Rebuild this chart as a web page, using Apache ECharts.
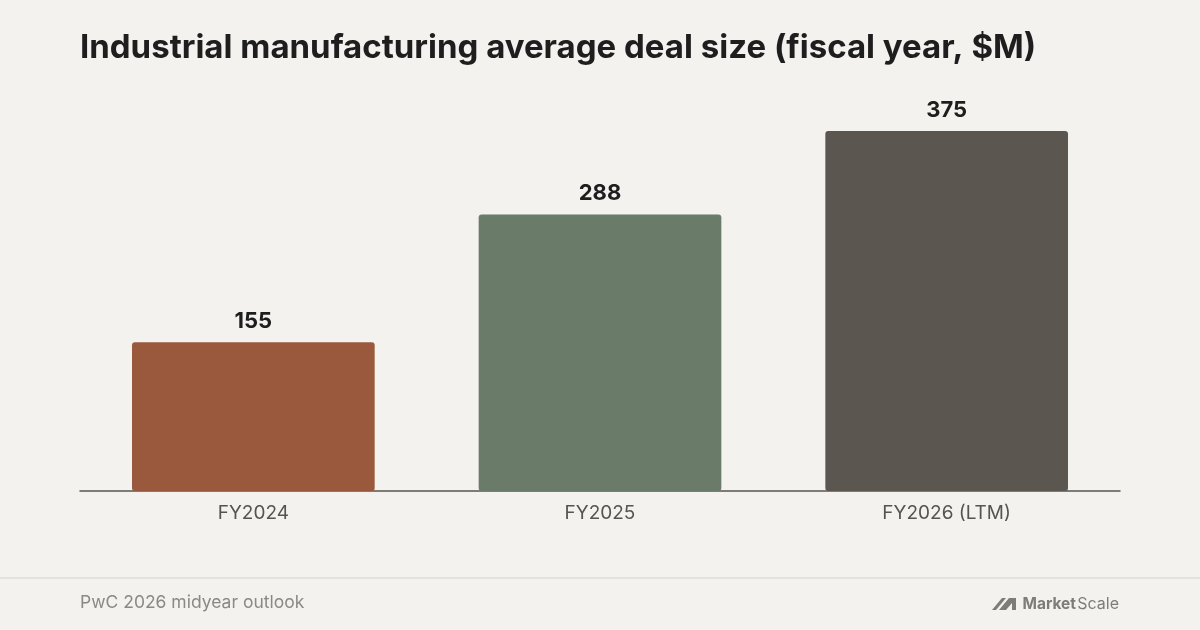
<!DOCTYPE html>
<html>
<head>
<meta charset="utf-8">
<script src="https://cdn.jsdelivr.net/npm/echarts@6/dist/echarts.min.js"></script>
<style>
  html, body { margin: 0; padding: 0; background: #f3f2ee; }
  #chart { width: 1200px; height: 630px; }
</style>
</head>
<body>
<div id="chart"></div>
<script>
  var categories = ['FY2024', 'FY2025', 'FY2026 (LTM)'];
  var values = [155, 288, 375];
  var barColors = ['#9a583c', '#6b7b6a', '#5b5750'];

  var myChart = echarts.init(document.getElementById('chart'));
  var option = {
    backgroundColor: '#f3f2ee',
    title: {
      text: 'Industrial manufacturing average deal size (fiscal year, $M)',
      left: 75,
      top: 27,
      textStyle: {
        color: '#1e1e1e',
        fontFamily: 'Inter',
        fontWeight: 'bold',
        fontSize: 33
      }
    },
    grid: {
      left: 80,
      right: 80,
      top: 107,
      bottom: 139
    },
    xAxis: {
      type: 'category',
      data: categories,
      axisTick: { show: false },
      axisLine: { lineStyle: { color: '#5a5650', width: 1.5 } },
      axisLabel: {
        color: '#555450',
        fontFamily: 'Inter',
        fontSize: 19,
        margin: 13
      }
    },
    yAxis: {
      type: 'value',
      min: 0,
      max: 400,
      show: false,
      splitLine: { show: false }
    },
    series: [{
      type: 'bar',
      barWidth: '70%',
      data: values.map(function(v, i) {
        return { value: v, itemStyle: { color: barColors[i] } };
      }),
      itemStyle: { borderRadius: 3 },
      label: {
        show: true,
        position: 'top',
        distance: 10,
        color: '#1e1e1e',
        fontFamily: 'Inter',
        fontWeight: 'bold',
        fontSize: 22
      }
    }],
    graphic: [
      // 底部分隔线
      { type: 'rect', left: 0, top: 577, shape: { width: 1200, height: 2 }, style: { fill: '#e4e2dd' } },
      {
        type: 'text',
        style: { x: 80, y: 603, text: 'PwC 2026 midyear outlook', fill: '#8a8985', font: '17.5px Inter', verticalAlign: 'middle' }
      },
      // logo
      {
        type: 'polygon',
        shape: { points: [[992, 610], [1002, 598], [1006, 598], [996, 610]] },
        style: { fill: '#7d7c78' }
      },
      {
        type: 'polygon',
        shape: { points: [[999, 610], [1009, 598], [1016, 598], [1016, 610], [1012, 610], [1012, 603], [1006, 610]] },
        style: { fill: '#7d7c78' }
      },
      {
        type: 'text',
        style: { x: 1076, y: 604, text: 'Market', fill: '#7d7c78', font: 'bold 15.5px Inter', align: 'right', verticalAlign: 'middle' }
      },
      {
        type: 'text',
        style: { x: 1119, y: 604, text: 'Scale', fill: '#7d7c78', font: '16px Inter', align: 'right', verticalAlign: 'middle' }
      }
    ]
  };
  myChart.setOption(option);
</script>
</body>
</html>
